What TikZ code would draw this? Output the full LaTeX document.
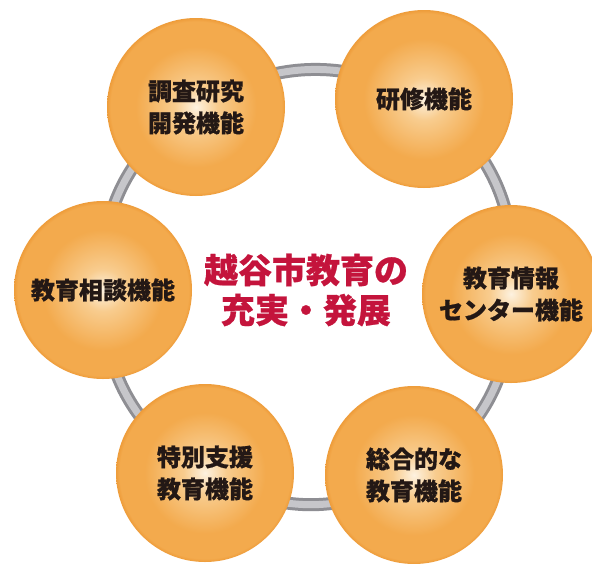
\documentclass[tikz,border=0pt]{standalone}
\usepackage{fontspec}
\newfontfamily\jp{Noto Sans CJK JP}[BoldFeatures={FakeBold=0.7}]
\usetikzlibrary{backgrounds}
\definecolor{ballin}{HTML}{FDF2E0}
\definecolor{ballmid}{HTML}{F8CC8E}
\definecolor{ballout}{HTML}{F3AA4D}
\definecolor{ballrim}{HTML}{EE9C3A}
\definecolor{txt}{HTML}{231815}
\definecolor{redtxt}{HTML}{C4143C}
\definecolor{ringdark}{HTML}{8E8E93}
\definecolor{ringlight}{HTML}{C6C6CA}
\pgfdeclareradialshading{ballshade}{\pgfpoint{0bp}{0bp}}{color(0bp)=(ballin); color(6bp)=(ballmid); color(17bp)=(ballout); color(24bp)=(ballout); color(25bp)=(ballrim); color(50bp)=(ballrim)}
\begin{document}
\begin{tikzpicture}[x=1pt,y=1pt,
  ball/.style={circle, minimum size=178pt, inner sep=0pt, shade, shading=ballshade,
    align=center, text=txt, font=\jp\bfseries\fontsize{24}{32}\selectfont},
  ring/.style={draw=ringdark, line width=3pt, double=ringlight, double distance=7pt},
  title/.style={align=center, text=redtxt, font=\jp\bfseries\fontsize{34}{40}\selectfont}
]
\useasboundingbox (0,0) rectangle (592,-563);
\node[ball] (n1) at (196,-107) {調査研究\\開発機能};
\node[ball] (n2) at (424,-99) {研修機能};
\node[ball] (n3) at (511,-294) {教育情報\\センター機能};
\node[ball] (n4) at (414,-475) {総合的な\\教育機能};
\node[ball] (n5) at (205,-473) {特別支援\\教育機能};
\node[ball] (n6) at (103,-290) {教育相談機能};
\node[title] (c) at (306,-290) {越谷市教育の\\充実・発展};
\begin{scope}[on background layer]
\fill[white] (0,0) rectangle (592,-563);
\draw[ring] (n1.center) to[bend left=30] (n2.center);
\draw[ring] (n2.center) to[bend left=30] (n3.center);
\draw[ring] (n3.center) to[bend left=30] (n4.center);
\draw[ring] (n4.center) to[bend left=30] (n5.center);
\draw[ring] (n5.center) to[bend left=30] (n6.center);
\draw[ring] (n6.center) to[bend left=30] (n1.center);
\end{scope}
\end{tikzpicture}
\end{document}
